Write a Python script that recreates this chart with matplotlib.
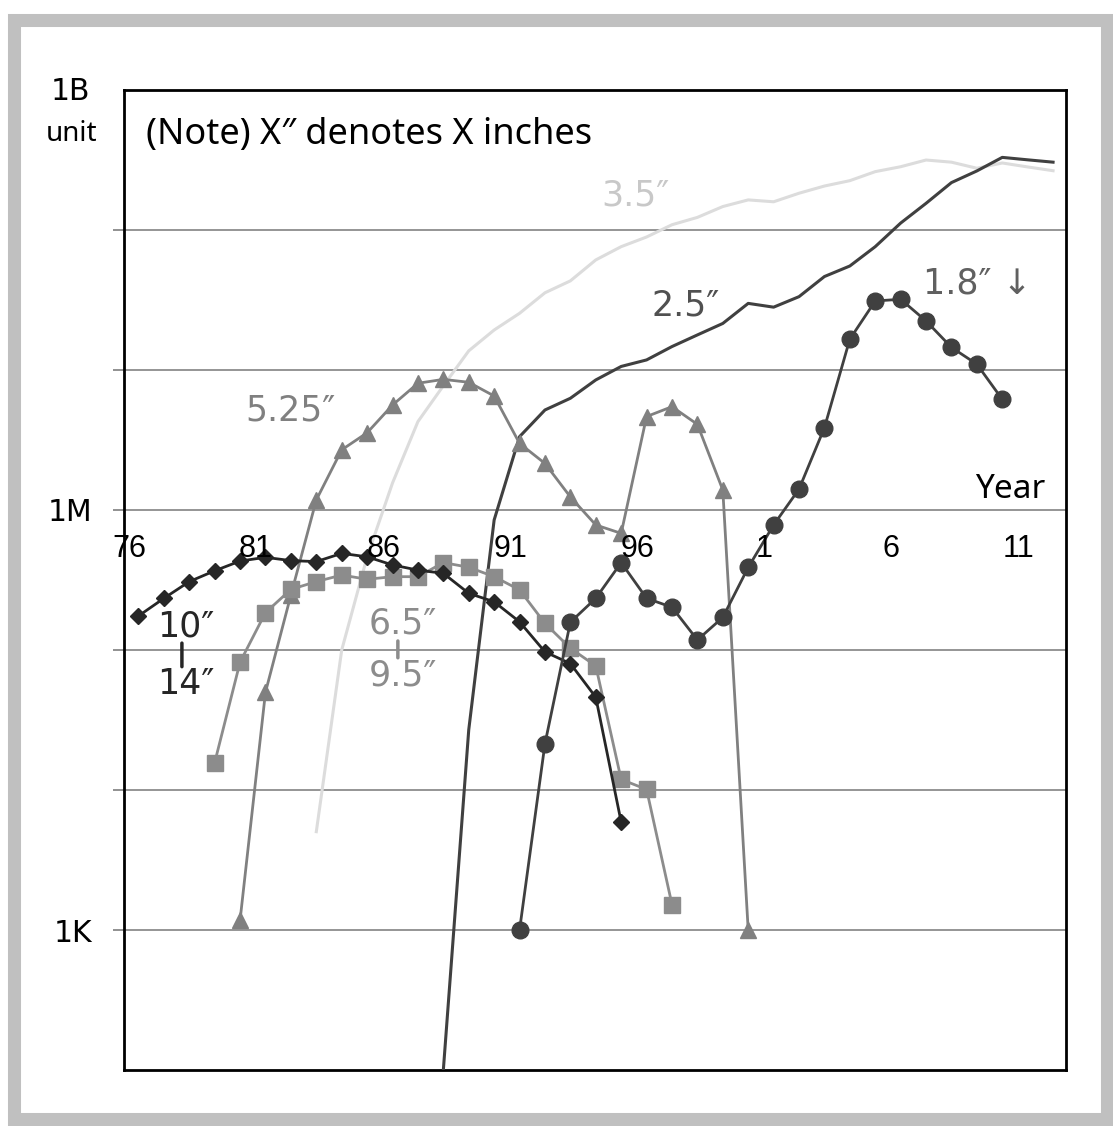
import matplotlib
matplotlib.use('Agg')
import matplotlib.pyplot as plt
from matplotlib.patches import Rectangle

## Data (units per year) ##
years_10_14 = list(range(1976, 1996))
units_10_14 = [175000, 234000, 308000, 368000, 432000, 459000, 435000, 428000, 490000, 463000,
               405000, 372000, 353000, 254000, 221000, 159000, 97000, 80000, 46000, 5900]

years_65_95 = list(range(1979, 1998))
units_65_95 = [15700, 82000, 185000, 271000, 308000, 343000, 320000, 334000, 334000, 421000,
               390000, 334000, 269000, 155000, 103000, 77000, 11900, 10100, 1520]

years_525 = list(range(1980, 2001))
units_525 = [1180, 50000, 247000, 1180000, 2690000, 3560000, 5620000, 8040000, 8570000, 8170000,
             6520000, 2990000, 2150000, 1240000, 782000, 681000, 4650000, 5470000, 4090000,
             1390000, 1000]

years_18 = list(range(1991, 2011))
units_18 = [1000, 21400, 158000, 234000, 421000, 234000, 202000, 118000, 171000, 389000,
            782000, 1410000, 3870000, 16600000, 31100000, 32000000, 22400000, 14500000,
            11000000, 6170000]

years_25 = list(range(1988, 2013))
units_25 = [100, 26900, 849000, 3340000, 5180000, 6280000, 8490000, 10600000, 11800000,
            14700000, 17800000, 21500000, 29900000, 28100000, 33400000, 46500000, 55300000,
            76000000, 112000000, 155000000, 218000000, 264000000, 330000000, 317000000,
            305000000]

years_35 = list(range(1983, 2013))
units_35 = [5040, 100000, 463000, 1560000, 4280000, 7710000, 13700000, 19300000, 25400000,
            35600000, 43300000, 61100000, 76000000, 89100000, 109000000, 123000000, 147000000,
            164000000, 159000000, 183000000, 206000000, 225000000, 261000000, 283000000,
            316000000, 305000000, 276000000, 301000000, 282000000, 265000000]

tick_years = [1976, 1981, 1986, 1991, 1996, 2001, 2006, 2011]
tick_labels = ['76', '81', '86', '91', '96', '1', '6', '11']

## Figure ##
fig = plt.figure(figsize=(11.13, 11.26), dpi=100)
ax = fig.add_axes([0.1114, 0.0497, 0.8464, 0.8704])

ax.plot(years_35, units_35, '-', color='#dcdcdc', lw=2.2, zorder=2)
ax.plot(years_25, units_25, '-', color='#404040', lw=2.2, zorder=3)
ax.plot(years_525, units_525, '-^', color='#808080', lw=2, ms=12, zorder=4)
ax.plot(years_65_95, units_65_95, '-s', color='#8c8c8c', lw=2, ms=12, zorder=5)
ax.plot(years_10_14, units_10_14, '-D', color='#262626', lw=2, ms=8, zorder=6)
ax.plot(years_18, units_18, '-o', color='#404040', lw=2, ms=12, zorder=7)

ax.set_yscale('log')
ax.set_ylim(1e2, 1e9)
ax.set_xlim(1975.43, 2012.51)

# grid + y ticks
ax.yaxis.set_minor_locator(matplotlib.ticker.NullLocator())
ax.set_yticks([1e3, 1e4, 1e5, 1e6, 1e7, 1e8])
ax.set_yticklabels(['1K', '', '', '1M', '', ''], fontsize=21.5, family='DejaVu Sans')
ax.tick_params(axis='y', length=8, width=1.3, color='#888888', labelcolor='black', pad=15)
ax.set_xticks([])
ax.grid(axis='y', color='#8c8c8c', lw=1.3)
ax.set_axisbelow(True)
for s in ax.spines.values():
    s.set_linewidth(2)
    s.set_color('black')

# year labels sit along the 1M line
for yr, lab in zip(tick_years, tick_labels):
    ax.text(yr - 0.37, 5.26e5, lab, ha='center', va='center', fontsize=22,
            family='Liberation Sans', zorder=8)
ax.text(2010.3, 1.39e6, 'Year', ha='center', va='center', fontsize=24, family='Noto Sans')

fig.text(70 / 1113, 1 - 91 / 1126, '1B', ha='center', va='center', fontsize=21.5,
         family='DejaVu Sans')
fig.text(72 / 1113, 1 - 134 / 1126, 'unit', ha='center', va='center', fontsize=20,
         family='Noto Sans')
ax.text(1976.3, 10**8.68, '(Note) X″ denotes X inches', ha='left', va='center', fontsize=26,
        family='Noto Sans', bbox=dict(facecolor='white', edgecolor='none', pad=2), zorder=9)

## Series labels ##
lab_font = dict(fontsize=25, family='DejaVu Sans', va='center', ha='left')
ax.text(1994.23, 1.76e8, '3.5″', color='#c8c8c8', **lab_font)
ax.text(1996.2, 2.89e7, '2.5″', color='#505050', **lab_font)
ax.text(2006.87, 4.18e7, '1.8″ ↓', color='#606060', **lab_font)
ax.text(1980.19, 5.14e6, '5.25″', color='#808080', **lab_font)
ax.text(1985.07, 1.55e5, '6.5″', color='#8c8c8c', **lab_font)
ax.text(1985.07, 6.6e4, '9.5″', color='#8c8c8c', **lab_font)
ax.text(1976.72, 1.48e5, '10″', color='#262626', **lab_font)
ax.text(1976.72, 5.7e4, '14″', color='#262626', **lab_font)

# short bars that join the size ranges
ax.annotate('', xy=(1986.21, 1.16e5), xytext=(1986.21, 8.8e4),
            arrowprops=dict(arrowstyle='-', color='#8c8c8c', lw=2.5, shrinkA=0, shrinkB=0))
ax.annotate('', xy=(1977.71, 1.12e5), xytext=(1977.71, 7.6e4),
            arrowprops=dict(arrowstyle='-', color='#262626', lw=2.5, shrinkA=0, shrinkB=0))

## Grey frame around the whole picture ##
fig.patches.append(Rectangle((13.5 / 1113, 7 / 1126), 1093 / 1113, 1099 / 1126,
                             transform=fig.transFigure, fill=False, lw=9.4,
                             edgecolor='#c0c0c0'))

fig.savefig('out.png', dpi=100)
